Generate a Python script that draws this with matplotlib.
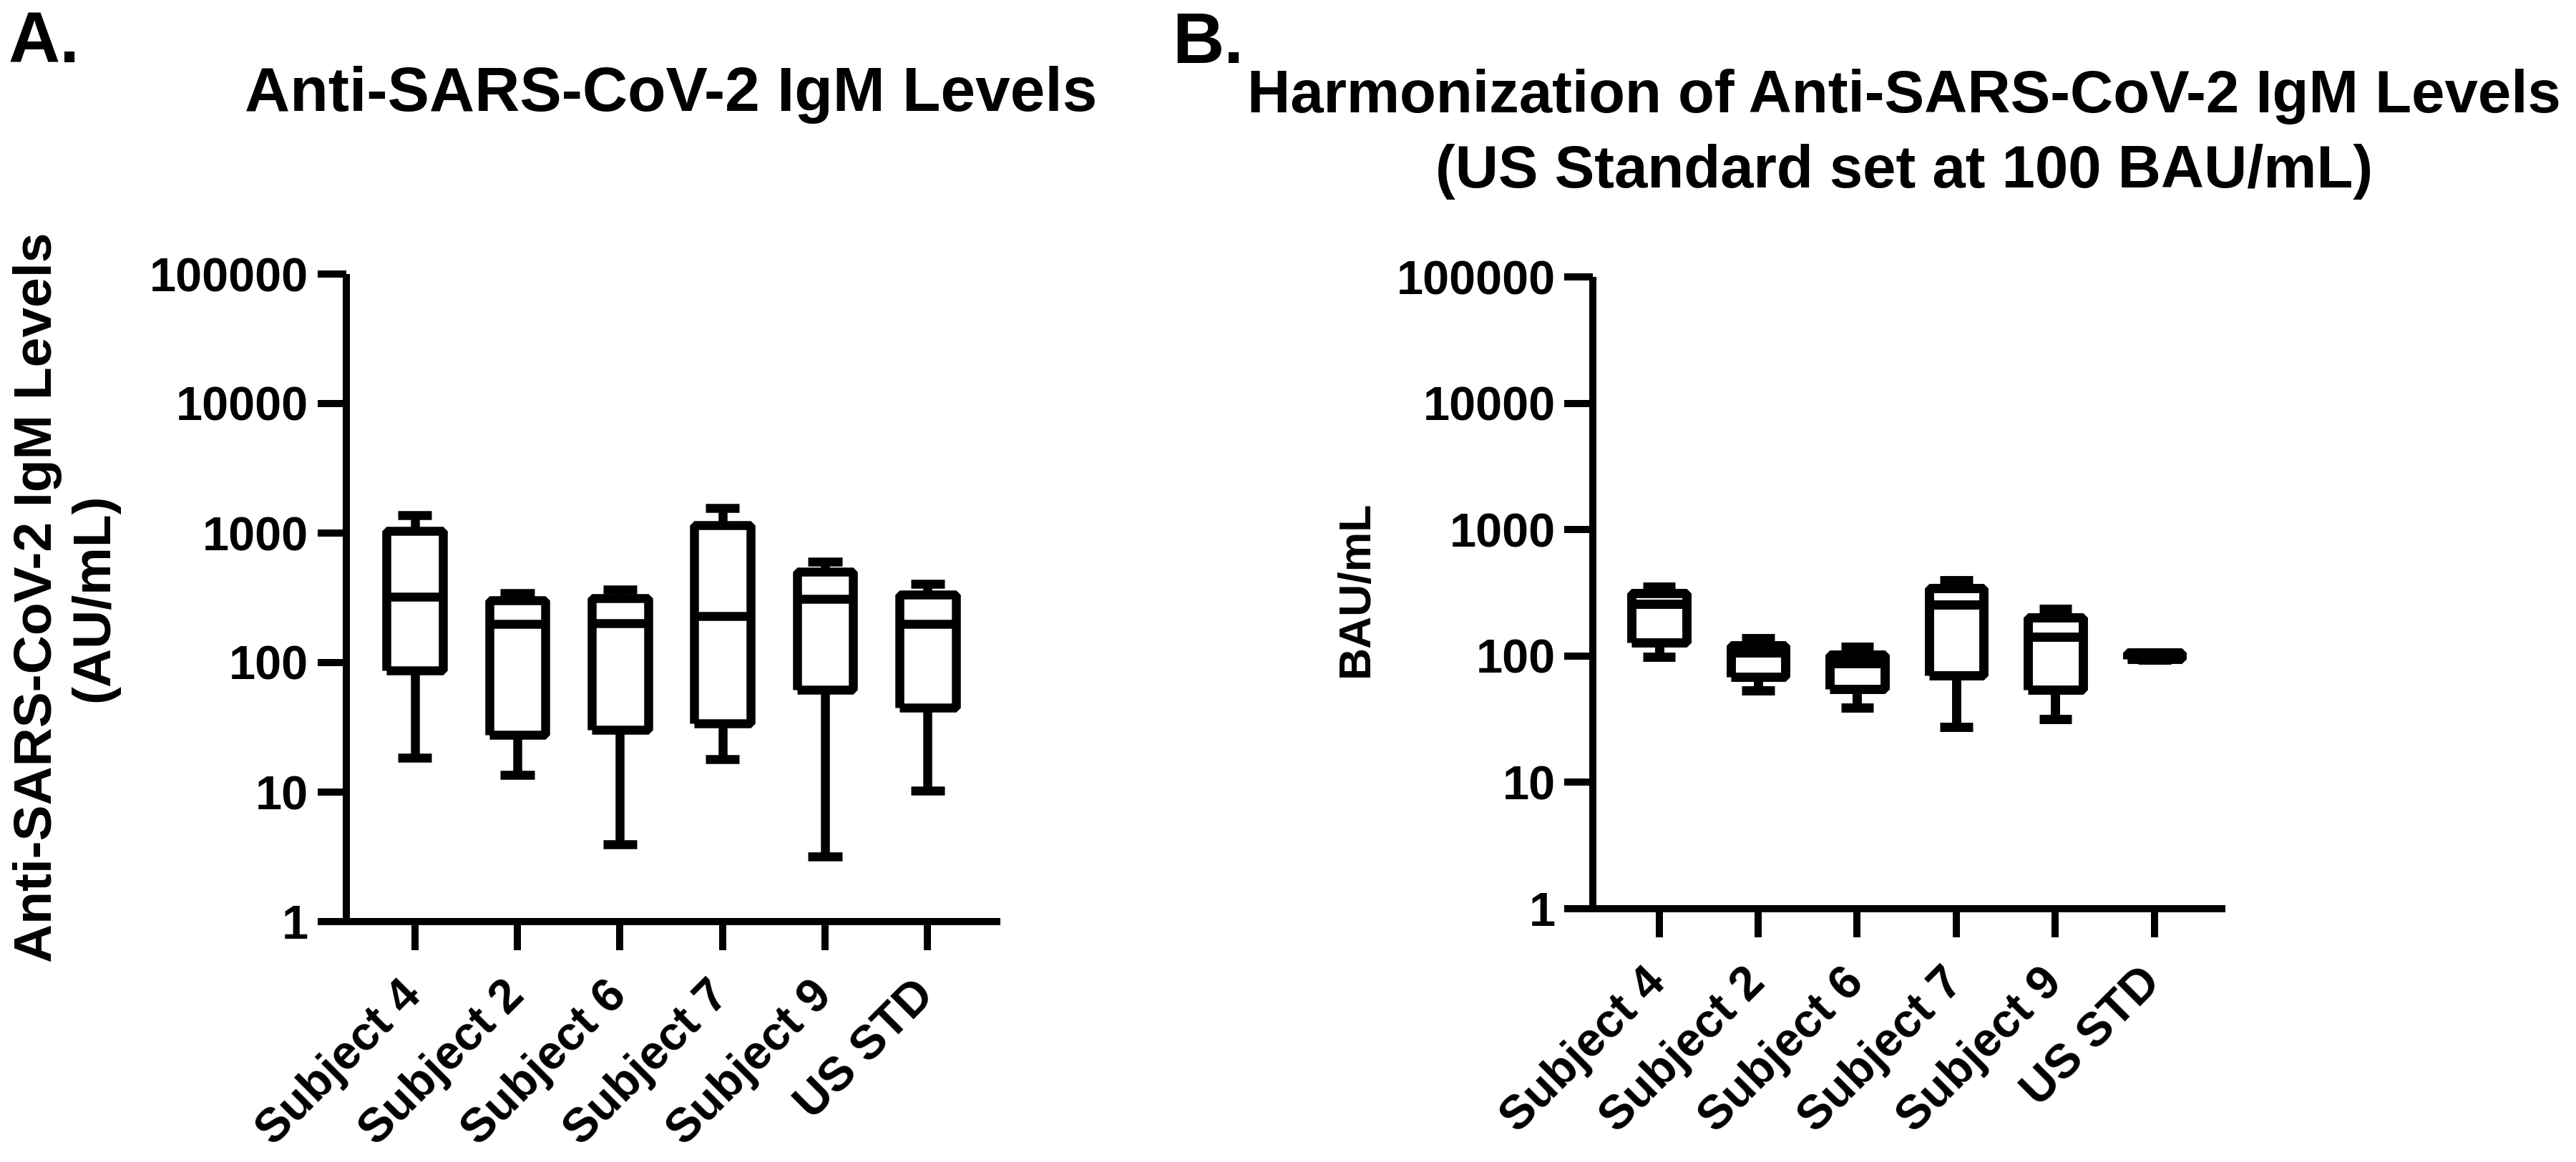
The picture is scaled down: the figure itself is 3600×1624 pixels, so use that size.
import numpy as np
import matplotlib
matplotlib.use("Agg")
import matplotlib.pyplot as plt
from matplotlib.ticker import FixedLocator, FixedFormatter

plt.rcParams['font.family'] = ['Liberation Sans', 'DejaVu Sans']
plt.rcParams['font.weight'] = 'bold'

categories = ['Subject 4', 'Subject 2', 'Subject 6', 'Subject 7', 'Subject 9', 'US STD']

# panel A, AU/mL (min, q1, median, q3, max)
a_min = [18.4, 13.6, 3.96, 18.0, 3.2, 10.2]
a_q1 = [86.5, 27.5, 30.4, 34.0, 61.6, 44.6]
a_med = [323, 199, 202, 230, 310, 199]
a_q3 = [1043, 302, 315, 1155, 502, 334]
a_max = [1370, 343, 364, 1570, 601, 403]

# panel B, BAU/mL
b_min = [98, 53.6, 39, 27.4, 31.6, 94]
b_q1 = [128, 68.6, 54.8, 70.2, 54, 95]
b_med = [257, 107, 88, 255, 141, 100]
b_q3 = [316, 121, 102, 342, 202, 106]
b_max = [352, 138, 118, 398, 237, 107]

yticks = [1, 10, 100, 1000, 10000, 100000]
ytick_labels = ['1', '10', '100', '1000', '10000', '100000']


def make_stats(lo, q1, med, q3, hi):
    return [dict(whislo=l, q1=a, med=m, q3=b, whishi=h, fliers=[])
            for l, a, m, b, h in zip(lo, q1, med, q3, hi)]


def draw_panel(ax, stats, box_lw):
    pos = np.arange(1, len(categories) + 1)
    line = dict(color='black', linewidth=box_lw, solid_joinstyle='bevel',
                solid_capstyle='butt')
    ax.bxp(stats, positions=pos, widths=0.55, capwidths=0.33, showfliers=False,
           boxprops=line, whiskerprops=line, capprops=line, medianprops=line)
    ax.set_yscale('log')
    ax.set_ylim(1, 100000)
    ax.set_xlim(0.33, 6.71)
    ax.yaxis.set_major_locator(FixedLocator(yticks))
    ax.yaxis.set_major_formatter(FixedFormatter(ytick_labels))
    ax.yaxis.set_minor_locator(FixedLocator([]))
    ax.set_xticks(pos)
    ax.set_xticklabels(categories, rotation=45, ha='right', va='center',
                       rotation_mode='anchor', fontsize=16, fontweight='bold')
    for lab in ax.get_yticklabels():
        lab.set_fontsize(16)
        lab.set_fontweight('bold')
    for s in ['top', 'right']:
        ax.spines[s].set_visible(False)
    for s in ['left', 'bottom']:
        ax.spines[s].set_linewidth(2.4)
        ax.spines[s].set_capstyle('butt')
    ax.tick_params(axis='both', length=9.6, width=2.4, pad=3)
    ax.tick_params(axis='x', pad=13)
    ax.patch.set_visible(False)


fig = plt.figure(figsize=(12, 1624 / 300), dpi=300)

axA = fig.add_axes([483.7 / 3600, 336 / 1624, 914.3 / 3600, 905 / 1624])
draw_panel(axA, make_stats(a_min, a_q1, a_med, a_q3, a_max), 3.0)

axB = fig.add_axes([2226 / 3600, 354 / 1624, 884 / 3600, 883 / 1624])
draw_panel(axB, make_stats(b_min, b_q1, b_med, b_q3, b_max), 3.1)
axB.set_xlim(0.332, 6.715)

fig.text(12 / 3600, 1 - 87 / 1624, 'A.', fontsize=24, fontweight='bold', va='baseline', ha='left')
fig.text(1638 / 3600, 1 - 88 / 1624, 'B.', fontsize=24, fontweight='bold', va='baseline', ha='left')

fig.text(938 / 3600, 1 - 155 / 1624, 'Anti-SARS-CoV-2 IgM Levels', fontsize=21,
         fontweight='bold', ha='center', va='baseline')
fig.text(2661 / 3600, 1 - 262 / 1624,
         'Harmonization of Anti-SARS-CoV-2 IgM Levels\n(US Standard set at 100 BAU/mL)',
         fontsize=20, fontweight='bold', ha='center', va='baseline',
         multialignment='center', linespacing=1.45)

fig.text(92 / 3600, 1 - 835 / 1624, 'Anti-SARS-CoV-2 IgM Levels\n(AU/mL)', fontsize=18,
         fontweight='bold', rotation=90, ha='center', va='center', multialignment='center')
fig.text(1895 / 3600, 1 - 823 / 1624, 'BAU/mL', fontsize=15, fontweight='bold',
         rotation=90, ha='center', va='center')

fig.savefig('out.png', dpi=300, facecolor='white')
